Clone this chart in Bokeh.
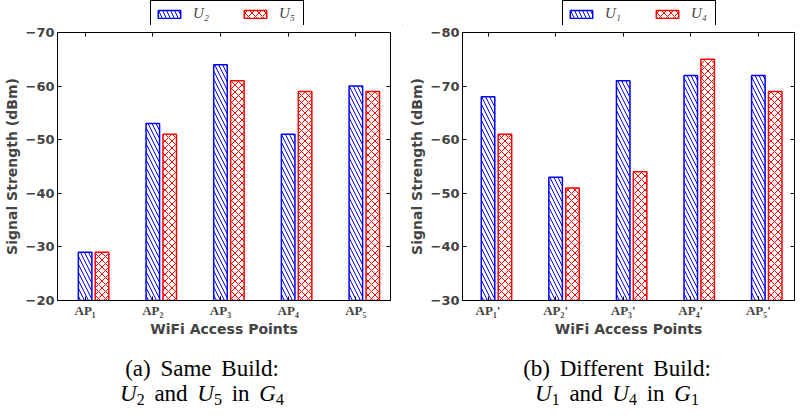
from bokeh.plotting import figure
from bokeh.layouts import row, column
from bokeh.models import (Range1d, FixedTicker, LinearAxis, Legend, LegendItem,
                          ColumnDataSource, Div)
from bokeh.embed import file_html
from bokeh.resources import INLINE

# ---------------- data ----------------
positions = [0, 1, 2, 3, 4]
left_labels = ["AP\u2081", "AP\u2082", "AP\u2083", "AP\u2084", "AP\u2085"]
right_labels = ["AP\u2081'", "AP\u2082'", "AP\u2083'", "AP\u2084'", "AP\u2085'"]

left_u2 = [-29, -53, -64, -51, -60]
left_u5 = [-29, -51, -61, -59, -59]
right_u1 = [-68, -53, -71, -72, -72]
right_u4 = [-61, -51, -54, -75, -69]

left_yticks = [-70, -60, -50, -40, -30, -20]
right_yticks = [-80, -70, -60, -50, -40, -30]

left_series = ["U\u2082", "U\u2085"]
right_series = ["U\u2081", "U\u2084"]

left_caption_1 = "(a) Same Build:"
left_caption_2 = [("U", "2"), "and", ("U", "5"), "in", ("G", "4")]
right_caption_1 = "(b) Different Build:"
right_caption_2 = [("U", "1"), "and", ("U", "4"), "in", ("G", "1")]

BLUE = "#0000ff"
RED = "#ff0000"
BAR_W = 0.2
OFFSET = 0.25
SANS = "DejaVu Sans"
SERIF = "Liberation Serif"

STYLE_A = dict(fill_color="white", line_color=BLUE, line_width=1.5,
               hatch_pattern="\\", hatch_color=BLUE, hatch_scale=8, hatch_weight=1)
STYLE_B = dict(fill_color="white", line_color=RED, line_width=1.5,
               hatch_pattern="x", hatch_color=RED, hatch_scale=7, hatch_weight=1)


def minus(v):
    return ("\u2212" + str(abs(v))) if v < 0 else str(v)


def make_panel(series_a, series_b, xlabels, yticks, ybottom, ytop,
               xstart, xend, width, bl, br):
    p = figure(width=width, height=314, output_backend="svg", toolbar_location=None,
               x_range=Range1d(xstart, xend), y_range=Range1d(ybottom, ytop),
               min_border_left=bl, min_border_right=br, min_border_top=7,
               min_border_bottom=38, x_axis_type=None, y_axis_type=None)
    p.grid.visible = False
    p.outline_line_color = "black"
    p.outline_line_width = 1
    p.background_fill_color = "white"
    p.border_fill_color = "white"

    xt = FixedTicker(ticks=positions)
    yt = FixedTicker(ticks=yticks)

    def style(ax):
        ax.axis_line_color = "black"
        ax.axis_line_width = 1
        ax.major_tick_in = 4
        ax.major_tick_out = 0
        ax.minor_tick_in = 0
        ax.minor_tick_out = 0
        ax.major_tick_line_color = "black"

    xb = LinearAxis(ticker=xt, major_label_overrides={k: s for k, s in zip(positions, xlabels)},
                    axis_label="WiFi Access Points")
    style(xb)
    xb.major_label_text_font = SERIF
    xb.major_label_text_font_style = "bold"
    xb.major_label_text_font_size = "13px"
    xb.major_label_standoff = 2
    xb.axis_label_text_font = SANS
    xb.axis_label_text_font_style = "bold"
    xb.axis_label_text_font_size = "14px"
    xb.axis_label_standoff = 0
    p.add_layout(xb, "below")

    xa = LinearAxis(ticker=xt, major_label_overrides={k: "" for k in positions})
    style(xa)
    xa.major_label_standoff = 0
    xa.major_label_text_font_size = "0px"
    p.add_layout(xa, "above")

    yl = LinearAxis(ticker=yt, major_label_overrides={k: minus(k) for k in yticks},
                    axis_label="Signal Strength (dBm)")
    style(yl)
    yl.major_label_text_font = SANS
    yl.major_label_text_font_style = "bold"
    yl.major_label_text_font_size = "13px"
    yl.major_label_standoff = 3
    yl.axis_label_text_font = SANS
    yl.axis_label_text_font_style = "bold"
    yl.axis_label_text_font_size = "14px"
    yl.axis_label_standoff = 3
    p.add_layout(yl, "left")

    yr = LinearAxis(ticker=yt, major_label_overrides={k: "" for k in yticks})
    style(yr)
    yr.major_label_standoff = 0
    yr.major_label_text_font_size = "0px"
    p.add_layout(yr, "right")

    src = ColumnDataSource(dict(x=positions, x2=[v + OFFSET for v in positions],
                                a=series_a, b=series_b))
    p.vbar(x="x", width=BAR_W, bottom=ybottom, top="a", source=src, **STYLE_A)
    p.vbar(x="x2", width=BAR_W, bottom=ybottom, top="b", source=src, **STYLE_B)
    return p, src


def make_legend(names, src, width, lx):
    # legend strip above the axes; its bars fall outside its own (unit) range
    f = figure(width=width, height=25, output_backend="svg", toolbar_location=None,
               x_range=Range1d(0, 1), y_range=Range1d(0, 1), min_border=0,
               min_border_left=lx, x_axis_type=None, y_axis_type=None)
    f.grid.visible = False
    f.outline_line_color = None
    ra = f.vbar(x="x", top="a", bottom="a", width=0.01, source=src, **STYLE_A)
    rb = f.vbar(x="x2", top="b", bottom="b", width=0.01, source=src, **STYLE_B)
    legend = Legend(items=[LegendItem(label=names[0], renderers=[ra]),
                           LegendItem(label=names[1], renderers=[rb])],
                    location="top_left", orientation="horizontal")
    legend.margin = 0
    legend.padding = 4
    legend.spacing = 28
    legend.glyph_width = 28
    legend.glyph_height = 10
    legend.label_height = 14
    legend.label_standoff = 10
    legend.label_text_font = SERIF
    legend.label_text_font_style = "italic"
    legend.label_text_font_size = "15px"
    legend.label_text_baseline = "middle"
    legend.border_line_color = "black"
    legend.border_line_width = 1
    legend.border_line_alpha = 1
    legend.background_fill_alpha = 1
    f.add_layout(legend)
    return f


def caption(line1, parts, width, pad_l, pad_r):
    pieces = []
    for part in parts:
        if isinstance(part, tuple):
            pieces.append(f"<i>{part[0]}</i><span style=\"font-size:16px;"
                          f"vertical-align:-4px;line-height:0\">{part[1]}</span>")
        else:
            pieces.append(part)
    html = line1 + "<br>" + " ".join(pieces)
    return Div(text=html, width=width, height=63,
               styles={"text-align": "center", "font-family": "'Liberation Serif', serif",
                       "font-size": "23px", "line-height": "25px", "color": "black",
                       "word-spacing": "4px",
                       "padding-top": "12px", "padding-left": f"{pad_l}px",
                       "padding-right": f"{pad_r}px", "box-sizing": "border-box",
                       "width": f"{width}px", "height": "63px", "overflow": "hidden"})


p1, s1 = make_panel(left_u2, left_u5, left_labels, left_yticks, -20, -70,
                    -0.408, 4.512, 403, 52, 13)
p2, s2 = make_panel(right_u1, right_u4, right_labels, right_yticks, -30, -80,
                    -0.378, 4.535, 392, 59, 1)
l1 = make_legend(left_series, s1, 403, 150)
l2 = make_legend(right_series, s2, 392, 159)
c1 = caption(left_caption_1, left_caption_2, 403, 0, 9)
c2 = caption(right_caption_1, right_caption_2, 392, 6, 0)

layout = column(row(l1, l2, spacing=0), row(p1, p2, spacing=0),
                row(c1, c2, spacing=0), spacing=0)
open("out.html", "w").write(file_html(layout, INLINE))
